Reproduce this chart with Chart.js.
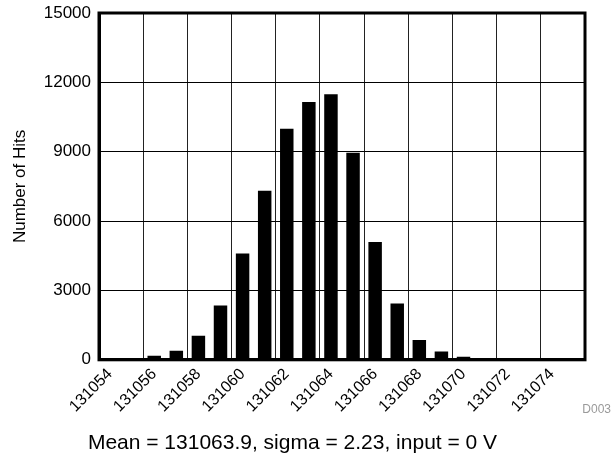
<!DOCTYPE html>
<html>
<head>
<meta charset="utf-8">
<script src="https://cdn.jsdelivr.net/npm/chart.js@4"></script>
<style>
  html, body { margin: 0; padding: 0; background: #fff; }
  #wrap { width: 613px; height: 459px; }
</style>
</head>
<body>
<div id="wrap"><canvas id="histChart" width="613" height="459"></canvas></div>
<script>
// histogram of output codes
const codes = ['131054', '131055', '131056', '131057', '131058', '131059', '131060', '131061',
               '131062', '131063', '131064', '131065', '131066', '131067', '131068', '131069',
               '131070', '131071', '131072', '131073', '131074', '131075'];
const hits = [50, 60, 170, 390, 1040, 2350, 4600, 7310,
              9990, 11150, 11490, 8960, 5100, 2440, 855, 360,
              130, 70, 50, 30, 25, 15];
const yTicks = [0, 3000, 6000, 9000, 12000, 15000];

const font = 'Liberation Sans, Arial, sans-serif';

// draw the full frame round the plot plus the figure code
const framePlugin = {
    id: 'frame',
    afterDraw(chart) {
        const ctx = chart.ctx;
        const a = chart.chartArea;
        ctx.save();
        ctx.strokeStyle = '#000';
        ctx.lineWidth = 3;
        ctx.strokeRect(a.left, a.top, a.right - a.left, a.bottom - a.top);
        ctx.fillStyle = '#9a9a9a';
        ctx.font = '12px ' + font;
        ctx.textAlign = 'right';
        ctx.textBaseline = 'alphabetic';
        ctx.fillText('D003', 611, 413);
        ctx.restore();
    }
};

const ctx = document.getElementById('histChart').getContext('2d');
const histChart = new Chart(ctx, {
    type: 'bar',
    data: {
        labels: codes,
        datasets: [{
            data: hits,
            backgroundColor: '#000',
            borderWidth: 0,
            barPercentage: 0.61,
            categoryPercentage: 1
        }]
    },
    options: {
        responsive: false,
        animation: false,
        layout: { padding: { left: 0, right: 28, top: 13, bottom: 0 } },
        plugins: {
            legend: { display: false },
            tooltip: { enabled: false },
            title: {
                display: true,
                position: 'bottom',
                text: 'Mean = 131063.9, sigma = 2.23, input = 0 V',
                color: '#000',
                font: { family: font, size: 21, weight: 'normal' },
                padding: { top: 3, bottom: 3 }
            }
        },
        scales: {
            x: {
                offset: true,
                grid: {
                    offset: true,
                    drawTicks: false,
                    lineWidth: 1,
                    color: function(c) { return c.index % 2 === 0 ? '#222' : 'rgba(0,0,0,0)'; }
                },
                border: { color: '#000', width: 3 },
                ticks: {
                    autoSkip: false,
                    minRotation: 45,
                    maxRotation: 45,
                    padding: 5,
                    color: '#000',
                    font: { family: font, size: 16 },
                    callback: function(v, i) { return i % 2 === 0 ? codes[i] : ''; }
                },
                afterFit: function(s) { s.height = 68; }
            },
            y: {
                min: 0,
                max: 15000,
                afterBuildTicks: function(s) { s.ticks = yTicks.map(v => ({ value: v })); },
                grid: { color: '#000', lineWidth: 1, drawTicks: false },
                border: { color: '#000', width: 3 },
                ticks: {
                    padding: 8,
                    color: '#000',
                    font: { family: font, size: 17 },
                    callback: function(v) { return String(v); }
                },
                title: {
                    display: true,
                    text: 'Number of Hits',
                    color: '#000',
                    font: { family: font, size: 17 },
                    padding: { top: 10, bottom: 0 }
                },
                afterFit: function(s) {
                    s.width = 99;
                    s.paddingTop = 0;
                }
            }
        }
    },
    plugins: [framePlugin]
});
</script>
</body>
</html>
